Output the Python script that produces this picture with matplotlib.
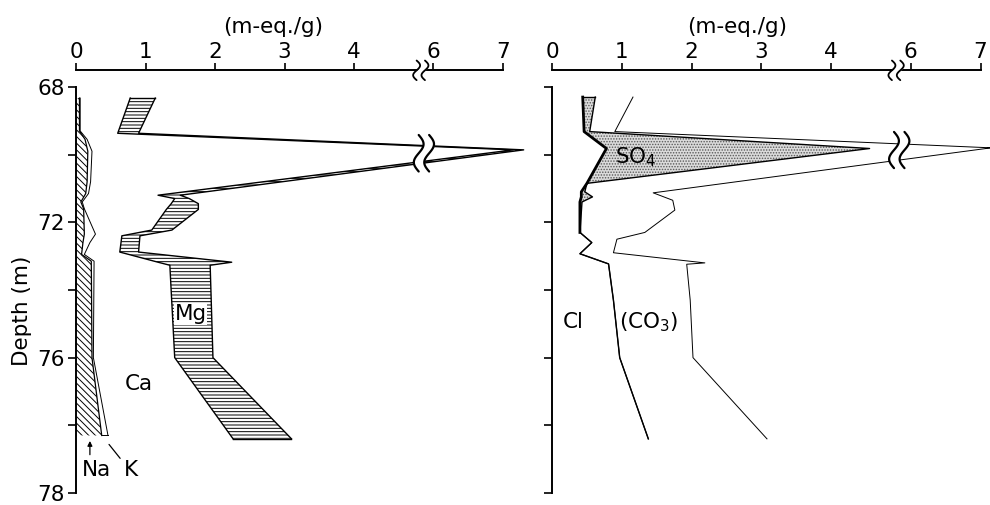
import numpy as np
import matplotlib
matplotlib.use("Agg")
import matplotlib.pyplot as plt

# ---------------- data (m-eq./g, stacked edges) ----------------
# Left panel: cations
nak_depth = [68.33, 69.30, 69.55, 69.90, 70.80, 71.15, 71.40, 71.60, 72.35, 72.60, 72.95, 73.15, 76.00, 78.30]
na_edge   = [0.05, 0.05, 0.13, 0.17, 0.16, 0.14, 0.07, 0.11, 0.12, 0.10, 0.08, 0.22, 0.23, 0.37]
k_edge    = [0.06, 0.06, 0.16, 0.23, 0.21, 0.18, 0.09, 0.12, 0.28, 0.20, 0.12, 0.26, 0.25, 0.46]

camg_depth = [68.33, 69.37, 69.86, 71.20, 71.30, 71.45, 71.62, 72.23, 72.40, 72.88, 73.18, 73.27, 76.00, 78.40]
ca_edge    = [0.78, 0.60, 7.15, 1.18, 1.42, 1.37, 1.30, 1.09, 0.66, 0.63, 1.18, 1.35, 1.42, 2.26]
mg_edge    = [1.14, 0.90, 7.30, 1.50, 1.63, 1.76, 1.76, 1.38, 0.92, 0.90, 2.24, 1.93, 1.97, 3.10]

# Right panel: anions
an_depth  = [68.30, 69.32, 69.82, 70.85, 71.10, 71.25, 71.40, 72.30, 72.60, 72.93, 73.23, 74.30, 76.00, 78.40]
cl_edge   = [0.44, 0.46, 0.78, 0.50, 0.42, 0.42, 0.40, 0.40, 0.57, 0.40, 0.81, 0.88, 0.97, 1.38]
so4_edge  = [0.62, 0.54, 4.55, 0.50, 0.47, 0.58, 0.43, 0.40, 0.57, 0.40, 0.81, 0.88, 0.97, 1.38]

co3_depth = [68.30, 69.32, 69.80, 71.13, 71.35, 71.64, 72.30, 72.50, 72.90, 73.20, 73.24, 74.30, 76.00, 78.40]
co3_edge  = [1.16, 0.90, 7.15, 1.45, 1.73, 1.76, 1.33, 0.93, 0.88, 2.19, 1.93, 1.98, 2.02, 3.08]

x_ticks = [0, 1, 2, 3, 4, 6, 7]
x_tick_labels = ["0", "1", "2", "3", "4", "6", "7"]
y_ticks = [68, 70, 72, 74, 76, 78, 80]
y_tick_labels = ["68", "", "72", "", "76", "", "78"]

# ---------------- broken x scale (4 ... 6 compressed) ----------------
_fx = [-100.0, 5.0, 6.0, 100.0]
_fy = [-100.0, 5.0, 5.14, 99.14]


def fwd(x):
    return np.interp(x, _fx, _fy)


def inv(x):
    return np.interp(x, _fy, _fx)


plt.rcParams["font.family"] = ["DejaVu Sans"]
plt.rcParams["hatch.linewidth"] = 0.7
plt.rcParams["hatch.color"] = "black"

fig = plt.figure(figsize=(9.9, 5.05), dpi=100)
FS = 15.5

ax1 = fig.add_axes([76 / 990, 12 / 505, 0.4557, 423 / 505])
ax2 = fig.add_axes([552 / 990, 12 / 505, 0.447, 423 / 505])

for ax, xmax in ((ax1, 7.35), (ax2, 7.2)):
    ax.set_xscale("function", functions=(fwd, inv))
    ax.set_xlim(0, xmax)
    ax.set_ylim(80, 67.5)
    ax.xaxis.tick_top()
    ax.set_xticks(x_ticks)
    ax.set_xticklabels(x_tick_labels, fontsize=FS)
    ax.set_yticks(y_ticks)
    ax.set_yticklabels(y_tick_labels, fontsize=FS)
    ax.spines["bottom"].set_visible(False)
    ax.spines["right"].set_visible(False)
    ax.spines["top"].set_bounds(0, 7)
    ax.spines["left"].set_bounds(68, 80)
    for s in ("top", "left"):
        ax.spines[s].set_linewidth(1.4)
    ax.tick_params(axis="x", direction="out", length=5, width=1.2, pad=1)
    ax.tick_params(axis="y", direction="out", length=6, width=1.2, pad=2)
    ax.minorticks_off()

ax2.set_yticklabels([""] * len(y_ticks))

# ---------------- left panel ----------------
ax1.fill_betweenx(nak_depth, 0, na_edge, facecolor="white", edgecolor="black",
                  hatch="\\\\\\\\\\", linewidth=0, zorder=2)
ax1.plot(na_edge, nak_depth, color="black", lw=0.9, zorder=3)
ax1.plot(k_edge, nak_depth, color="black", lw=0.7, zorder=3)
ax1.plot([na_edge[-1], k_edge[-1]], [nak_depth[-1], nak_depth[-1]], color="black", lw=0.7)

ax1.fill_betweenx(camg_depth, ca_edge, mg_edge, facecolor="white", edgecolor="black",
                  hatch="-----", linewidth=0, zorder=2)
ax1.plot(ca_edge, camg_depth, color="black", lw=1.0, zorder=3)
ax1.plot(mg_edge, camg_depth, color="black", lw=1.0, zorder=3)
for i in (0, -1):
    ax1.plot([ca_edge[i], mg_edge[i]], [camg_depth[i], camg_depth[i]], color="black", lw=1.0, zorder=3)

# ---------------- right panel ----------------
ax2.fill_betweenx(an_depth, cl_edge, so4_edge, facecolor="0.86", edgecolor="0.35",
                  hatch="......", linewidth=0, zorder=2)
ax2.plot(so4_edge, an_depth, color="black", lw=1.0, zorder=3)
ax2.plot(cl_edge[:8], an_depth[:8], color="black", lw=2.0, zorder=3)
ax2.plot(cl_edge[7:], an_depth[7:], color="black", lw=0.8, zorder=3)
ax2.plot([cl_edge[0], so4_edge[0]], [an_depth[0], an_depth[0]], color="black", lw=1.0, zorder=3)
ax2.plot(co3_edge, co3_depth, color="black", lw=0.7, zorder=3)


# ---------------- break marks ----------------
def break_marks(ax, xd, y0, y1, amp, gap, lw):
    t = np.linspace(0, 1, 60)
    y = y0 + (y1 - y0) * t
    xa = xd + amp * np.sin(2 * np.pi * t)
    xb = xa + gap
    ax.fill_betweenx(y, inv(xa), inv(xb), color="white", zorder=5, clip_on=False, lw=0)
    ax.plot(inv(xa), y, color="black", lw=lw, zorder=6, clip_on=False, solid_capstyle="round")
    ax.plot(inv(xb), y, color="black", lw=lw, zorder=6, clip_on=False, solid_capstyle="round")


break_marks(ax1, 4.90, 67.22, 67.80, 0.05, 0.12, 1.3)
break_marks(ax2, 4.87, 67.22, 67.80, 0.05, 0.12, 1.3)
break_marks(ax1, 4.93, 69.42, 70.50, 0.07, 0.15, 1.6)
break_marks(ax2, 4.90, 69.33, 70.40, 0.07, 0.15, 1.6)

# ---------------- labels ----------------
ax1.text(inv(1.65), 74.72, "Mg", fontsize=FS, ha="center", va="center", zorder=7,
         bbox=dict(facecolor="white", edgecolor="none", pad=0.5))
ax1.text(inv(0.91), 76.79, "Ca", fontsize=FS, ha="center", va="center")
ax1.text(0.30, 79.33, "Na", fontsize=FS, ha="center", va="center")
ax1.text(0.79, 79.33, "K", fontsize=FS, ha="center", va="center")
ax1.annotate("", xy=(0.20, 78.38), xytext=(0.20, 78.95),
             arrowprops=dict(arrowstyle="-|>", lw=0.9, color="black", mutation_scale=7))
ax1.annotate("", xy=(0.45, 78.50), xytext=(0.66, 79.04),
             arrowprops=dict(arrowstyle="-", lw=0.9, color="black"))

ax2.text(1.2, 70.07, "SO$_4$", fontsize=FS, ha="center", va="center", zorder=7)
ax2.text(0.30, 74.95, "Cl", fontsize=FS, ha="center", va="center")
ax2.text(1.39, 74.95, "(CO$_3$)", fontsize=FS, ha="center", va="center")

fig.text(273 / 990, 1 - 27 / 505, "(m-eq./g)", fontsize=FS, ha="center", va="center")
fig.text(737 / 990, 1 - 27 / 505, "(m-eq./g)", fontsize=FS, ha="center", va="center")
fig.text(22 / 990, 1 - 311 / 505, "Depth (m)", fontsize=FS, ha="center", va="center", rotation=90)

fig.savefig("out.png", dpi=100, facecolor="white")
